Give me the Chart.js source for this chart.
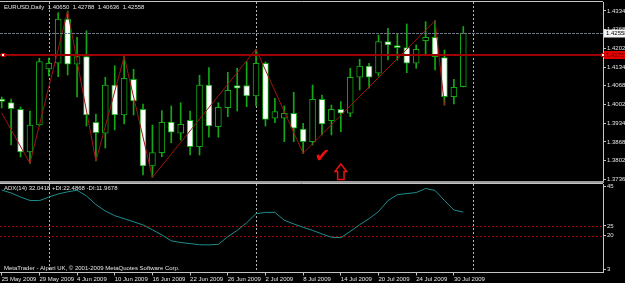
<!DOCTYPE html>
<html>
<head>
<meta charset="utf-8">
<script src="https://cdn.jsdelivr.net/npm/chart.js@4.4.1/dist/chart.umd.min.js"></script>
<style>
  html, body { margin: 0; padding: 0; background: #000; }
  #wrap { position: relative; width: 625px; height: 283px; overflow: hidden; background: #000; }
  canvas { position: absolute; left: 0; }
  #price { top: 0; }
  #adx { top: 183px; }
</style>
</head>
<body>
<div id="wrap">
  <canvas id="price" width="625" height="183"></canvas>
  <canvas id="adx" width="625" height="100"></canvas>
</div>
<script>
const symbol = 'EURUSD,Daily';
const dateLabels = ['25 May 2009', '29 May 2009', '4 Jun 2009', '10 Jun 2009', '16 Jun 2009', '22 Jun 2009', '26 Jun 2009',
                    '2 Jul 2009', '8 Jul 2009', '14 Jul 2009', '20 Jul 2009', '24 Jul 2009', '30 Jul 2009'];
const dateTicks = [0, 4, 8, 12, 16, 20, 24, 28, 32, 36, 40, 44, 48];

const opens  = [1.40208, 1.40076, 1.39841, 1.38321, 1.39282, 1.41276, 1.41479, 1.43056, 1.41443, 1.41714,
                1.39379, 1.38987, 1.40706, 1.39638, 1.40909, 1.39841, 1.37823, 1.38296, 1.39389, 1.38987,
                1.39450, 1.38510, 1.40706, 1.39222, 1.39898, 1.40681, 1.40681, 1.40315, 1.41479, 1.39521,
                1.39521, 1.39699, 1.39140, 1.38688, 1.40197, 1.39435, 1.39841, 1.39699, 1.40981, 1.41383,
                1.41123, 1.42248, 1.42105, 1.42034, 1.41479, 1.42283, 1.42405, 1.41678, 1.40290, 1.40650];
const highs  = [1.40279, 1.40208, 1.39923, 1.39781, 1.41657, 1.41668, 1.43280, 1.43341, 1.42405, 1.42640,
                1.39674, 1.40981, 1.41393, 1.41714, 1.41265, 1.40030, 1.39282, 1.39791, 1.39959, 1.40076,
                1.39781, 1.41052, 1.41322, 1.40076, 1.41159, 1.41301, 1.41536, 1.41977, 1.41525, 1.40233,
                1.39959, 1.40447, 1.39343, 1.40706, 1.40350, 1.39994, 1.40112, 1.41301, 1.41621, 1.41479,
                1.42486, 1.42725, 1.42547, 1.42878, 1.42130, 1.42960, 1.42995, 1.41952, 1.40909, 1.42788];
const lows   = [1.39888, 1.38570, 1.38143, 1.37919, 1.39247, 1.41027, 1.41002, 1.41062, 1.40279, 1.39247,
                1.38001, 1.38464, 1.39104, 1.39318, 1.39638, 1.37502, 1.37420, 1.38154, 1.38652, 1.38748,
                1.38214, 1.38214, 1.38845, 1.38845, 1.39578, 1.39781, 1.39934, 1.39959, 1.39247, 1.39364,
                1.38688, 1.38688, 1.38275, 1.38570, 1.38926, 1.38926, 1.39044, 1.39578, 1.40528, 1.40589,
                1.41027, 1.41596, 1.41596, 1.41144, 1.41301, 1.41774, 1.41240, 1.39990, 1.40030, 1.40636];
const closes = [1.40119, 1.39863, 1.38321, 1.39282, 1.41536, 1.41479, 1.43056, 1.41443, 1.41714, 1.39638,
                1.39008, 1.40706, 1.39638, 1.40945, 1.40137, 1.37823, 1.38303, 1.39379, 1.39023, 1.39307,
                1.38510, 1.40706, 1.39247, 1.39913, 1.40518, 1.40589, 1.40315, 1.41479, 1.39485, 1.39756,
                1.39699, 1.39165, 1.38688, 1.40197, 1.39318, 1.39841, 1.39699, 1.40981, 1.41383, 1.40981,
                1.42248, 1.42130, 1.42034, 1.41479, 1.41977, 1.42405, 1.41714, 1.40290, 1.40625, 1.42558];

const zigzagBars   = [0, 3, 7, 10, 13, 16, 27, 32, 46, 47];
const zigzagPrices = [1.39710, 1.37919, 1.43341, 1.38001, 1.41714, 1.37420, 1.41977, 1.38275, 1.42995, 1.39990];

const adx = [43.3, 41.8, 39.7, 38.0, 37.9, 39.7, 41.3, 42.4, 43.2, 40.3,
             35.9, 32.6, 30.2, 28.7, 27.1, 25.5, 23.0, 20.4, 17.4, 16.5,
             16.0, 15.4, 15.3, 15.6, 19.5, 22.7, 26.6, 31.2, 31.9, 31.9,
             27.9, 26.0, 24.3, 22.7, 20.9, 19.2, 19.0, 22.2, 25.6, 28.7,
             32.3, 37.9, 40.9, 41.5, 42.0, 44.1, 43.1, 38.0, 33.1, 32.04];
const adxText = 'ADX(14) 32.0418 +DI:22.4868 -DI:11.9678';

const priceTicks = [1.37360, 1.38020, 1.38680, 1.39340, 1.40020, 1.40680, 1.41340, 1.42020, 1.42680, 1.43340];
const adxTicks = [3, 20, 25, 45];
const adxLevels = [25, 20];
const bidPrice = 1.42558;
const redLinePrice = 1.41757;
const separatorBars = [5, 27, 50];

const xMin = -0.18, xMax = 63.83;
const green = '#14a814';
const frameColor = '#c4c4c4';
const textColor = '#e4e4e4';
const smallFont = '6px "Liberation Sans"';

function noPad(s) { s.paddingTop = 0; s.paddingBottom = 0; s.paddingLeft = 0; s.paddingRight = 0; }

function drawSeparators(chart) {
    const {ctx, chartArea: a, scales: {x}} = chart;
    ctx.save();
    ctx.strokeStyle = '#b8b8b8';
    ctx.lineWidth = 1;
    ctx.setLineDash([2, 2]);
    separatorBars.forEach(b => {
        const px = Math.round(x.getPixelForValue(b)) + 0.5;
        ctx.beginPath(); ctx.moveTo(px, a.top); ctx.lineTo(px, a.bottom); ctx.stroke();
    });
    ctx.restore();
}

const priceDecor = {
    id: 'priceDecor',
    beforeDatasetsDraw(chart) { drawSeparators(chart); },
    afterDatasetsDraw(chart) {
        const {ctx, chartArea: a, scales: {x, y}} = chart;
        ctx.save();
        // bid line
        const by = Math.round(y.getPixelForValue(bidPrice)) + 0.5;
        ctx.strokeStyle = '#6f7888'; ctx.lineWidth = 1; ctx.setLineDash([3, 1]);
        ctx.beginPath(); ctx.moveTo(a.left, by); ctx.lineTo(a.right, by); ctx.stroke();
        ctx.setLineDash([]);
        // horizontal line object
        const ry = Math.round(y.getPixelForValue(redLinePrice));
        ctx.strokeStyle = '#9e0000'; ctx.lineWidth = 2;
        ctx.beginPath(); ctx.moveTo(a.left, ry); ctx.lineTo(625, ry); ctx.stroke();
        ctx.fillStyle = '#ffffff'; ctx.strokeStyle = '#c00000'; ctx.lineWidth = 1;
        ctx.fillRect(1, ry - 2, 4, 4); ctx.strokeRect(1.5, ry - 1.5, 3, 3);
        // frame
        ctx.strokeStyle = frameColor; ctx.lineWidth = 1;
        ctx.beginPath(); ctx.moveTo(0, 1.5); ctx.lineTo(a.right, 1.5); ctx.stroke();
        ctx.fillStyle = '#9a9a9a'; ctx.fillRect(0, 181, a.right + 1, 2);
        // price labels on the axis
        ctx.font = smallFont; ctx.textBaseline = 'middle'; ctx.textAlign = 'left';
        ctx.fillStyle = '#f4f4f4'; ctx.fillRect(604, by - 4, 21, 8);
        ctx.fillStyle = '#000'; ctx.fillText(bidPrice.toFixed(5), 606, by);
        ctx.fillStyle = '#e00000'; ctx.fillRect(604, ry - 4, 21, 8);
        ctx.fillStyle = '#4a0000'; ctx.fillText(redLinePrice.toFixed(5), 606, ry);
        ctx.fillStyle = '#ffffff'; ctx.strokeStyle = '#c00000';
        ctx.fillRect(601, ry - 2, 4, 4); ctx.strokeRect(601.5, ry - 1.5, 3, 3);
        // header
        const last = opens.length - 1;
        ctx.fillStyle = textColor; ctx.textBaseline = 'alphabetic';
        ctx.fillText(symbol + '  ' + [opens[last], highs[last], lows[last], closes[last]].map(v => v.toFixed(5)).join('  '), 4, 8.5);
        // check mark and arrow objects
        ctx.fillStyle = '#ee1010';
        ctx.font = 'bold 19px "DejaVu Sans"';
        ctx.fillText('\u2714', x.getPixelForValue(33.2), y.getPixelForValue(1.3795));
        const cx = x.getPixelForValue(36.0), top = y.getPixelForValue(1.37894);
        ctx.strokeStyle = '#ee1010'; ctx.lineWidth = 1.5;
        ctx.beginPath();
        ctx.moveTo(cx, top); ctx.lineTo(cx + 5.8, top + 7.5); ctx.lineTo(cx + 3.2, top + 7.5);
        ctx.lineTo(cx + 3.2, top + 15.5); ctx.lineTo(cx - 3.2, top + 15.5); ctx.lineTo(cx - 3.2, top + 7.5);
        ctx.lineTo(cx - 5.8, top + 7.5); ctx.closePath(); ctx.stroke();
        ctx.restore();
    }
};

const bars = opens.map((o, i) => i);

new Chart(document.getElementById('price'), {
    type: 'bar',
    data: {
        datasets: [{
            type: 'line',
            data: zigzagBars.map((b, i) => ({x: b, y: zigzagPrices[i]})),
            borderColor: '#a01414',
            borderWidth: 1,
            pointRadius: 0,
            tension: 0,
            order: 0
        }, {
            data: bars.map(i => ({x: i, y: [opens[i], closes[i]]})),
            backgroundColor: bars.map(i => closes[i] < opens[i] ? '#ffffff' : '#000000'),
            borderColor: green,
            borderWidth: 1,
            borderSkipped: false,
            barThickness: 6,
            grouped: false,
            order: 1
        }, {
            data: bars.map(i => ({x: i, y: [lows[i], highs[i]]})),
            backgroundColor: green,
            borderWidth: 0,
            barThickness: 1,
            grouped: false,
            order: 2
        }]
    },
    options: {
        responsive: false,
        animation: false,
        devicePixelRatio: 1,
        layout: {padding: {left: 0, top: 2, right: 0, bottom: 2}},
        plugins: {legend: {display: false}, tooltip: {enabled: false}},
        scales: {
            x: {type: 'linear', min: xMin, max: xMax, offset: false, display: false},
            y: {
                position: 'right',
                min: 1.37289,
                max: 1.43660,
                afterBuildTicks: s => { s.ticks = priceTicks.map(v => ({value: v})); },
                afterFit: s => { s.width = 22; noPad(s); },
                grid: {drawOnChartArea: false, color: frameColor, tickLength: 3},
                border: {color: frameColor},
                ticks: {color: textColor, padding: 1, font: {family: 'Liberation Sans', size: 6}, callback: v => v.toFixed(5)}
            }
        }
    },
    plugins: [priceDecor]
});

const adxDecor = {
    id: 'adxDecor',
    beforeDatasetsDraw(chart) {
        const {ctx, chartArea: a, scales: {y}} = chart;
        drawSeparators(chart);
        ctx.save();
        ctx.strokeStyle = '#a80000'; ctx.lineWidth = 1; ctx.setLineDash([2, 2]);
        adxLevels.forEach(l => {
            const py = Math.round(y.getPixelForValue(l)) + 0.5;
            ctx.beginPath(); ctx.moveTo(a.left, py); ctx.lineTo(a.right, py); ctx.stroke();
        });
        ctx.restore();
    },
    afterDatasetsDraw(chart) {
        const {ctx, chartArea: a} = chart;
        ctx.save();
        ctx.strokeStyle = frameColor; ctx.lineWidth = 1;
        ctx.beginPath(); ctx.moveTo(0, 0.5); ctx.lineTo(a.right, 0.5); ctx.stroke();
        ctx.font = smallFont; ctx.fillStyle = textColor; ctx.textBaseline = 'middle';
        ctx.fillText(adxText, 4, 5.5);
        ctx.fillText('MetaTrader - Alpari UK, \u00a9 2001-2009 MetaQuotes Software Corp.', 4, 85.5);
        ctx.restore();
    }
};

new Chart(document.getElementById('adx'), {
    type: 'line',
    data: {
        datasets: [{
            data: adx.map((v, i) => ({x: i, y: v})),
            borderColor: '#1d8e8e',
            borderWidth: 1,
            pointRadius: 0,
            tension: 0
        }]
    },
    options: {
        responsive: false,
        animation: false,
        devicePixelRatio: 1,
        layout: {padding: {left: 0, top: 1, right: 0, bottom: 0}},
        plugins: {legend: {display: false}, tooltip: {enabled: false}},
        scales: {
            x: {
                type: 'linear', min: xMin, max: xMax, offset: false,
                afterBuildTicks: s => { s.ticks = dateTicks.map(v => ({value: v})); },
                afterFit: s => { s.height = 10.5; noPad(s); },
                grid: {drawOnChartArea: false, color: frameColor, tickLength: 3},
                border: {color: frameColor},
                ticks: {align: 'start', maxRotation: 0, autoSkip: false, padding: 0, color: textColor,
                        font: {family: 'Liberation Sans', size: 6}, callback: (v, i) => dateLabels[i]}
            },
            y: {
                position: 'right',
                min: 1.22,
                max: 46.38,
                afterBuildTicks: s => { s.ticks = adxTicks.map(v => ({value: v})); },
                afterFit: s => { s.width = 22; noPad(s); },
                grid: {drawOnChartArea: false, color: frameColor, tickLength: 3},
                border: {color: frameColor},
                ticks: {color: textColor, padding: 1, font: {family: 'Liberation Sans', size: 6}}
            }
        }
    },
    plugins: [adxDecor]
});
</script>
</body>
</html>
